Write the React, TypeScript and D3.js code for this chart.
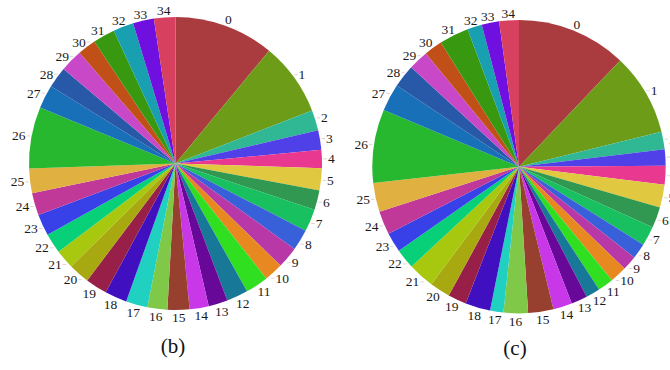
import React from "react";
import * as d3 from "d3";

// Category ids 0..34 (same categories in both pies)
const categories: string[] = Array.from({ length: 35 }, (_, i) => String(i));

// Share of each category, percent — panel (b)
const sharesB: number[] = [
  11.03, 8.06, 2.25, 2.17, 2.0, 2.44, 2.14, 2.5, 2.31, 2.36, 2.08, 2.53, 2.36,
  2.11, 2.11, 2.42, 2.19, 2.39, 2.44, 2.39, 2.31, 2.11, 2.19, 2.36, 2.47, 2.72,
  6.78, 2.58, 2.33, 2.47, 2.03, 2.42, 2.25, 2.31, 2.36,
];

// Share of each category, percent — panel (c)
const sharesC: number[] = [
  12.11, 9.06, 1.94, 1.78, 2.08, 2.5, 2.31, 2.14, 1.69, 1.61, 1.86, 1.72, 1.56,
  1.78, 2.08, 2.78, 2.69, 1.47, 2.75, 2.03, 2.25, 2.89, 2.19, 2.17, 2.58, 3.19,
  8.11, 3.0, 2.53, 2.19, 2.0, 3.25, 1.61, 1.92, 2.17,
];

const sliceColors: string[] = [
  "#aa3c3f", "#6c9c18", "#30b894", "#5040e8", "#e83890", "#e0c840", "#309850",
  "#18c060", "#3860d8", "#b838a8", "#e88820", "#30e020", "#187898", "#680898",
  "#c838e8", "#984030", "#80c848", "#20d0c0", "#4010c0", "#982048", "#a8a810",
  "#a8c810", "#08d078", "#3840e8", "#c03898", "#e0b040", "#28b830", "#1870b8",
  "#2858a8", "#c848c8", "#c05018", "#389810", "#18a0b0", "#7010e0", "#d84060",
];

const panels = [
  { caption: "(b)", values: sharesB, cx: 175.5, cy: 163.5, r: 146.5, capX: 173, capY: 353 },
  { caption: "(c)", values: sharesC, cx: 519, cy: 166.7, r: 146.7, capX: 515, capY: 355 },
];

const SERIF = "Liberation Serif";
const LABEL_FONT = 13.5;
const DIGIT_W = LABEL_FONT * 0.5;
const GLYPH_H = 9;

function Pie({ p }: { p: (typeof panels)[number] }) {
  const pie = d3
    .pie<number>()
    .sort(null)
    .value((d) => d)
    .startAngle(0)
    .endAngle(2 * Math.PI);
  const arcs = pie(p.values);
  const arc = d3.arc<d3.PieArcDatum<number>>().innerRadius(0).outerRadius(p.r);

  return (
    <g>
      <g transform={`translate(${p.cx},${p.cy})`}>
        {arcs.map((a, i) => (
          <path key={i} d={arc(a) || ""} fill={sliceColors[i]} />
        ))}
        {arcs.map((a, i) => {
          const mid = (a.startAngle + a.endAngle) / 2;
          const s = Math.sin(mid);
          const c = Math.cos(mid);
          const R = p.r + 3.5;
          const px = R * s;
          const py = -R * c;
          const w = categories[i].length * DIGIT_W;
          const lx = px + s * (w / 2 + 2.5);
          const ly = py - c * (GLYPH_H / 2) + (c > 0.5 ? 1.5 : 0);
          const tick =
            Math.abs(s) > 0.6 ? (
              <line
                x1={s < 0 ? lx + w / 2 + 1 : lx - w / 2 - 1}
                x2={s < 0 ? lx + w / 2 + 4.5 : lx - w / 2 - 4.5}
                y1={ly}
                y2={ly}
                stroke="#e6d0d0"
                strokeWidth={1}
              />
            ) : null;
          return (
            <g key={"l" + i}>
              {tick}
              <text
                x={lx}
                y={ly + GLYPH_H / 2}
                textAnchor="middle"
                style={{ fontFamily: SERIF, fontSize: LABEL_FONT }}
                fill="#1a1a1a"
              >
                {categories[i]}
              </text>
            </g>
          );
        })}
      </g>
      <text
        x={p.capX}
        y={p.capY}
        textAnchor="middle"
        style={{ fontFamily: SERIF, fontSize: 21 }}
        fill="#111"
      >
        {p.caption}
      </text>
    </g>
  );
}

export default function App() {
  return (
    <svg
      width={670}
      height={370}
      style={{ position: "absolute", left: 0, top: 0, background: "#fff" }}
    >
      <rect width={670} height={370} fill="#fff" />
      {panels.map((p) => (
        <Pie key={p.caption} p={p} />
      ))}
    </svg>
  );
}
